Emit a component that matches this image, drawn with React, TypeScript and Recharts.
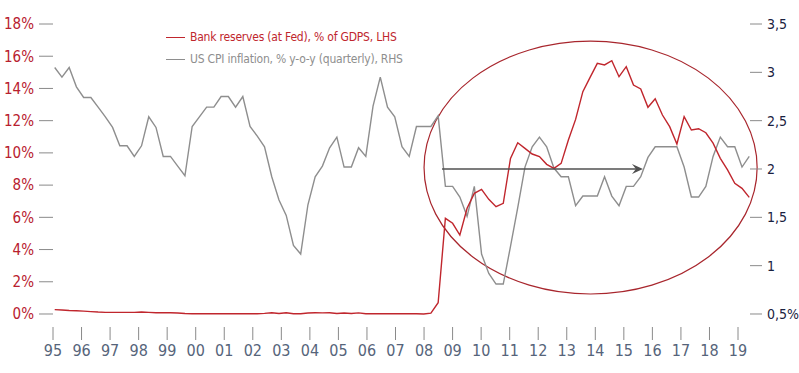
import React from 'react';
import {
  LineChart,
  Line,
  XAxis,
  YAxis,
  Legend,
  ReferenceArea,
  ReferenceLine,
} from 'recharts';

// quarterly series, 1995 Q1 .. 2019 Q1
const startYear = 1995;

// Bank reserves held at the Fed, % of GDP (left axis)
const reserves = [
  0.27, 0.25, 0.22, 0.2, 0.18, 0.15, 0.12, 0.1, 0.1, 0.1, 0.1, 0.1, 0.12, 0.1, 0.08, 0.08,
  0.08, 0.06, 0.03, 0.02, 0.02, 0.02, 0.02, 0.02, 0.02, 0.02, 0.02, 0.02, 0.02, 0.04, 0.08, 0.03,
  0.08, 0.02, 0.02, 0.06, 0.08, 0.07, 0.08, 0.03, 0.06, 0.03, 0.07, 0.02, 0.02, 0.02, 0.02, 0.02,
  0.02, 0.02, 0.02, 0.0, 0.05, 0.7, 5.94, 5.63, 4.9, 6.56, 7.49, 7.74, 7.12, 6.66, 6.87, 9.66,
  10.63, 10.28, 9.93, 9.77, 9.29, 9.04, 9.35, 10.8, 12.08, 13.8, 14.69, 15.56, 15.46, 15.72, 14.73, 15.35,
  14.21, 13.97, 12.83, 13.36, 12.35, 11.63, 10.55, 12.25, 11.42, 11.5, 11.25, 10.6, 9.66, 8.94, 8.11, 7.8,
  7.24,
];

// US CPI inflation, % y-o-y (right axis)
const inflation = [
  3.05, 2.95, 3.05, 2.85, 2.74, 2.74, 2.64, 2.54, 2.43, 2.24, 2.24, 2.13, 2.24, 2.54, 2.43, 2.13,
  2.13, 2.03, 1.93, 2.44, 2.54, 2.64, 2.64, 2.75, 2.75, 2.64, 2.75, 2.44, 2.34, 2.23, 1.92, 1.68,
  1.52, 1.21, 1.12, 1.63, 1.92, 2.03, 2.22, 2.33, 2.02, 2.02, 2.22, 2.13, 2.65, 2.95, 2.64, 2.54,
  2.23, 2.13, 2.44, 2.44, 2.44, 2.55, 1.82, 1.82, 1.71, 1.51, 1.82, 1.12, 0.92, 0.81, 0.81, 1.2,
  1.6, 2.02, 2.23, 2.33, 2.23, 2.01, 1.92, 1.92, 1.62, 1.72, 1.72, 1.72, 1.92, 1.72, 1.62, 1.82,
  1.82, 1.92, 2.12, 2.23, 2.23, 2.23, 2.23, 2.02, 1.71, 1.71, 1.82, 2.13, 2.33, 2.23, 2.23, 2.02,
  2.13,
];

const yearTicks = [
  1995, 1996, 1997, 1998, 1999, 2000, 2001, 2002, 2003, 2004, 2005, 2006, 2007,
  2008, 2009, 2010, 2011, 2012, 2013, 2014, 2015, 2016, 2017, 2018, 2019,
];
const leftTicks = [0, 2, 4, 6, 8, 10, 12, 14, 16, 18];
const rightTicks = [0.5, 1, 1.5, 2, 2.5, 3, 3.5];

const data = reserves.map((r, i) => ({
  t: startYear + i / 4,
  reserves: r,
  inflation: inflation[i],
}));

const RED = '#c0262d';
const GREY = '#8e8e8e';
const FONT = '"Liberation Sans Narrow", "DejaVu Sans Condensed", "Arial Narrow", sans-serif';

const EllipseShape = (props: any) => {
  const { x, y, width, height } = props;
  return (
    <ellipse
      cx={x + width / 2}
      cy={y + height / 2}
      rx={Math.abs(width) / 2}
      ry={Math.abs(height) / 2}
      fill="none"
      stroke="#a8262d"
      strokeWidth={1.2}
    />
  );
};

const ArrowShape = (props: any) => {
  const { x1, y1, x2, y2 } = props;
  return (
    <g>
      <line x1={x1} y1={y1} x2={x2 - 6} y2={y2} stroke="#505050" strokeWidth={1.6} />
      <polygon
        points={`${x2},${y2} ${x2 - 11},${y2 - 5} ${x2 - 7},${y2} ${x2 - 11},${y2 + 5}`}
        fill="#505050"
      />
    </g>
  );
};

const legendItems = [
  { label: 'Bank reserves (at Fed), % of GDPS, LHS', color: RED },
  { label: 'US CPI inflation, % y-o-y (quarterly), RHS', color: GREY },
];

const LegendBox = () => (
  <div style={{ fontFamily: FONT, fontSize: 12, letterSpacing: '-0.2px' }}>
    {legendItems.map((it) => (
      <div key={it.label} style={{ display: 'flex', alignItems: 'center', height: 22 }}>
        <span style={{ width: 19, height: 0, borderTop: `1.3px solid ${it.color}`, marginRight: 5 }} />
        <span style={{ color: it.color }}>{it.label}</span>
      </div>
    ))}
  </div>
);

const fmtRight = (v: number) => (v === 0.5 ? '0,5%' : String(v).replace('.', ','));

export default function App() {
  return (
    <div style={{ position: 'absolute', left: 0, top: 0, width: 799, height: 373, background: '#fff' }}>
      <LineChart width={799} height={373} data={data} margin={{ top: 24, right: 0, bottom: 0, left: 0 }}>
        {/* data axis: quarterly points are spaced a little wider than the year ticks */}
        <XAxis
          xAxisId="q"
          dataKey="t"
          type="number"
          domain={[1994.941, 2019.026]}
          allowDataOverflow
          height={0}
          hide
        />
        <XAxis
          xAxisId="years"
          dataKey="t"
          type="number"
          domain={[1995, 2019.42]}
          allowDataOverflow
          ticks={yearTicks}
          interval={0}
          tickFormatter={(v: number) => String(v).slice(2)}
          axisLine={false}
          tickLine={{ stroke: '#8a8a8a' }}
          tickSize={13}
          tickMargin={5}
          height={46}
          tick={{ fill: '#56647a', fontSize: 16, fontFamily: FONT }}
        />
        <YAxis
          yAxisId="left"
          type="number"
          domain={[-0.807, 18]}
          allowDataOverflow
          ticks={leftTicks}
          interval={0}
          tickFormatter={(v: number) => `${v}%`}
          axisLine={false}
          tickLine={{ stroke: '#8a8a8a' }}
          tickSize={14}
          tickMargin={5}
          width={53}
          tick={{ fill: '#b8202e', fontSize: 15, fontFamily: FONT }}
        />
        <YAxis
          yAxisId="right"
          orientation="right"
          type="number"
          domain={[0.3655, 3.5]}
          allowDataOverflow
          ticks={rightTicks}
          interval={0}
          tickFormatter={fmtRight}
          axisLine={false}
          tickLine={{ stroke: '#8a8a8a' }}
          tickSize={12}
          tickMargin={5}
          width={49}
          tick={{ fill: '#1a2140', fontSize: 14, fontFamily: FONT }}
        />

        <Legend
          layout="vertical"
          align="center"
          verticalAlign="middle"
          content={<LegendBox />}
          wrapperStyle={{ top: 26, left: 166, width: 'auto' }}
        />

        {/* invisible helper so the year-tick axis gets a scale */}
        <Line
          xAxisId="years"
          yAxisId="left"
          dataKey="reserves"
          stroke="none"
          strokeWidth={0}
          dot={false}
          activeDot={false}
          legendType="none"
          isAnimationActive={false}
        />
        <Line
          xAxisId="q"
          yAxisId="right"
          dataKey="inflation"
          type="linear"
          stroke={GREY}
          strokeWidth={1.4}
          dot={false}
          isAnimationActive={false}
        />
        <Line
          xAxisId="q"
          yAxisId="left"
          dataKey="reserves"
          type="linear"
          stroke={RED}
          strokeWidth={1.4}
          dot={false}
          isAnimationActive={false}
        />

        {/* circle round the post-2008 period */}
        <ReferenceArea
          xAxisId="years"
          yAxisId="left"
          x1={2008.0}
          x2={2019.67}
          y1={1.24}
          y2={16.94}
          ifOverflow="visible"
          shape={EllipseShape}
        />
        {/* flat-inflation arrow at 2% */}
        <ReferenceLine
          xAxisId="years"
          yAxisId="right"
          segment={[
            { x: 2008.63, y: 2 },
            { x: 2015.67, y: 2 },
          ]}
          ifOverflow="visible"
          shape={ArrowShape}
        />
      </LineChart>
    </div>
  );
}
